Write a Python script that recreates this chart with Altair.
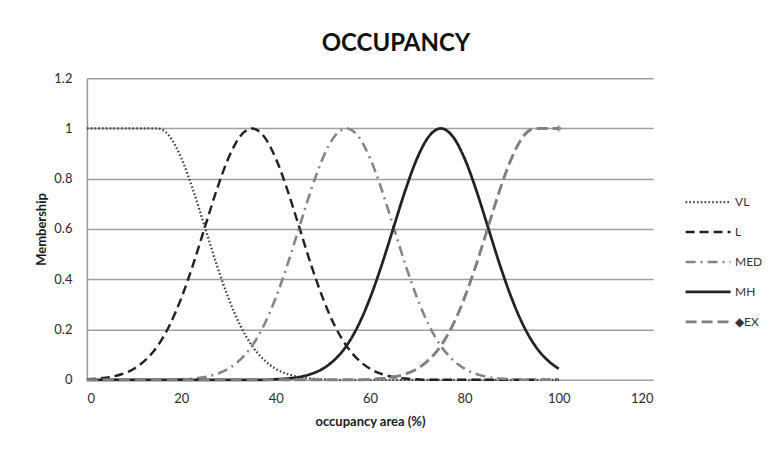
import altair as alt
import pandas as pd

series_names = ["VL", "L", "MED", "MH", "EX"]

x_vals = [0, 2.5, 5, 7.5, 10, 12.5, 15, 17.5, 20, 22.5, 25, 27.5, 30, 32.5, 35,
          37.5, 40, 42.5, 45, 47.5, 50, 52.5, 55, 57.5, 60, 62.5, 65, 67.5, 70,
          72.5, 75, 77.5, 80, 82.5, 85, 87.5, 90, 92.5, 95, 97.5, 100]

vl_vals = [1, 1, 1, 1, 1, 1, 1, 0.969, 0.882, 0.755, 0.607, 0.458, 0.325, 0.216,
           0.135, 0.080, 0.044, 0.023, 0.011, 0.005, 0.002,
           0, 0, 0, 0, 0, 0, 0, 0, 0, 0, 0, 0, 0, 0, 0, 0, 0, 0, 0, 0]

l_vals = [0.002, 0.005, 0.011, 0.023, 0.044, 0.080, 0.135, 0.216, 0.325, 0.458,
          0.607, 0.755, 0.882, 0.969, 1, 0.969, 0.882, 0.755, 0.607, 0.458,
          0.325, 0.216, 0.135, 0.080, 0.044, 0.023, 0.011, 0.005, 0.002,
          0, 0, 0, 0, 0, 0, 0, 0, 0, 0, 0, 0]

med_vals = [0, 0, 0, 0, 0, 0, 0, 0,
            0.002, 0.005, 0.011, 0.023, 0.044, 0.080, 0.135, 0.216, 0.325, 0.458,
            0.607, 0.755, 0.882, 0.969, 1, 0.969, 0.882, 0.755, 0.607, 0.458,
            0.325, 0.216, 0.135, 0.080, 0.044, 0.023, 0.011, 0.005, 0.002,
            0, 0, 0, 0]

mh_vals = [0, 0, 0, 0, 0, 0, 0, 0, 0, 0, 0, 0, 0, 0, 0, 0,
           0.002, 0.005, 0.011, 0.023, 0.044, 0.080, 0.135, 0.216, 0.325, 0.458,
           0.607, 0.755, 0.882, 0.969, 1, 0.969, 0.882, 0.755, 0.607, 0.458,
           0.325, 0.216, 0.135, 0.080, 0.044]

ex_vals = [0, 0, 0, 0, 0, 0, 0, 0, 0, 0, 0, 0, 0, 0, 0, 0, 0, 0, 0, 0, 0, 0, 0, 0,
           0.002, 0.005, 0.011, 0.023, 0.044, 0.080, 0.135, 0.216, 0.325, 0.458,
           0.607, 0.755, 0.882, 0.969, 1, 1, 1]

ex_marker_x = [100]
ex_marker_y = [1]

rows = []
for name, vals in zip(series_names, [vl_vals, l_vals, med_vals, mh_vals, ex_vals]):
    for i, (xv, yv) in enumerate(zip(x_vals, vals)):
        rows.append({"series": name, "x": xv, "y": yv, "ord": i})
df = pd.DataFrame(rows)
marker_df = pd.DataFrame({"x": ex_marker_x, "y": ex_marker_y})

colors = ["#444444", "#222222", "#858585", "#222222", "#808080"]
dashes = [[1.6, 2.2], [9, 5], [10, 5, 2, 5], [1, 0], [11, 5]]
widths = [2.3, 2.9, 2.5, 2.3, 2.7]

xscale = alt.Scale(domain=[0, 120], nice=False)
yscale = alt.Scale(domain=[0, 1.2], nice=False)

legend = alt.Legend(
    title=None, orient="none", legendX=598, legendY=100,
    symbolType="stroke", symbolSize=2025, rowPadding=-17,
    labelFont="Lato", labelFontSize=12, labelColor="#333333", labelOffset=3,
    labelExpr="datum.label == 'EX' ? '\u25c6EX' : datum.label",
)

lines = alt.Chart(df).mark_line(interpolate="monotone").encode(
    x=alt.X("x:Q", scale=xscale,
            axis=alt.Axis(values=[0, 20, 40, 60, 80, 100, 120], title="occupancy area (%)",
                          grid=False, ticks=False, domain=False, labelPadding=13,
                          titlePadding=10)),
    y=alt.Y("y:Q", scale=yscale,
            axis=alt.Axis(values=[0, 0.2, 0.4, 0.6, 0.8, 1, 1.2], format="~g",
                          title="Membership", grid=True, ticks=False,
                          labelPadding=15, titlePadding=5)),
    color=alt.Color("series:N", scale=alt.Scale(domain=series_names, range=colors), legend=legend),
    strokeDash=alt.StrokeDash("series:N", scale=alt.Scale(domain=series_names, range=dashes), legend=legend),
    strokeWidth=alt.StrokeWidth("series:N", scale=alt.Scale(domain=series_names, range=widths), legend=legend),
    order="ord:Q",
)

marker = alt.Chart(marker_df).mark_point(shape="diamond", filled=True, size=45, color="#808080").encode(
    x=alt.X("x:Q", scale=xscale),
    y=alt.Y("y:Q", scale=yscale),
)

chart = alt.layer(lines, marker).properties(
    width=567, height=302,
    padding={"left": 27, "top": 24, "right": 5, "bottom": 5},
    title=alt.Title("OCCUPANCY", font="Lato", fontSize=24, fontWeight="bold",
                    color="#111111", dx=26, offset=16),
).configure_view(stroke=None).configure_axis(
    labelFont="Lato", labelFontSize=13, labelColor="#2a2a2a",
    titleFont="Lato", titleFontSize=13, titleFontWeight="bold", titleColor="#1a1a1a",
    gridColor="#a0a0a0", gridWidth=1.5, domainColor="#999999", domainWidth=1.5,
).configure_axisY(domain=True)

chart.save("out.html", embed_options={"renderer": "svg", "actions": False})
